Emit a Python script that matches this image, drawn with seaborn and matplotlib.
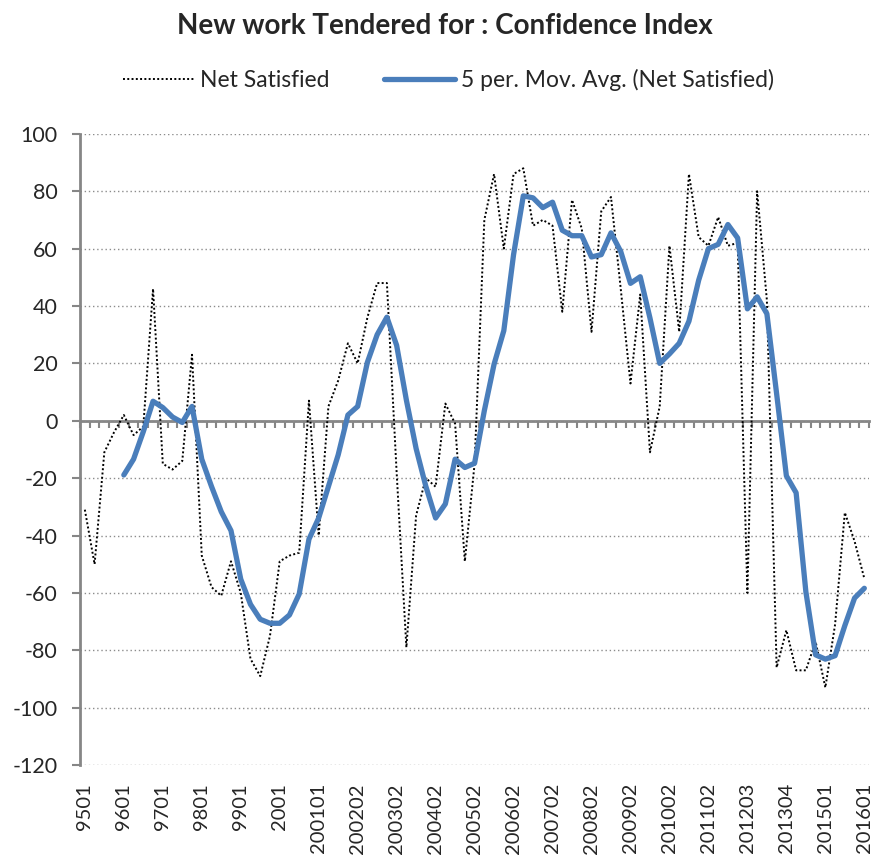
import pandas as pd
import seaborn as sns
import matplotlib.pyplot as plt
import numpy as np

# Dados (trimestral, 9501 .. 201601)
net_satisfied = [
    -31, -50, -11, -4, 2, -5, -2, 46, -15, -17,
    -14, 23, -47, -58, -61, -49, -60, -83, -89, -75,
    -49, -47, -46, 7, -40, 5, 14, 27, 20, 36,
    48, 48, -18, -79, -33, -20, -23, 6, -1, -49,
    -15, 70, 86, 60, 86, 88, 68, 70, 68, 38,
    77, 67, 31, 73, 78, 46, 13, 44, -11, 5,
    61, 31, 86, 64, 61, 71, 61, 62, -60, 80,
    42, -86, -73, -87, -87, -77, -93, -71, -32, -42,
    -55,
]

mov_avg = [
    None, None, None, None, -18.9, -13.4, -3.8, 6.8, 4.6, 1.3,
    -0.6, 5.0, -13.4, -22.9, -31.7, -38.3, -55.2, -64.0, -69.2, -70.6,
    -70.6, -67.7, -60.4, -41.3, -33.9, -22.9, -11.9, 2.0, 5.0, 20.4,
    30.0, 36.1, 26.3, 7.2, -9.7, -22.9, -33.9, -29.0, -13.4, -16.3,
    -14.8, 3.5, 19.7, 31.4, 57.9, 78.4, 77.7, 74.3, 76.2, 66.4,
    64.5, 64.5, 57.1, 57.9, 65.5, 59.0, 47.9, 50.2, 35.8, 20.0,
    23.3, 27.0, 34.7, 49.0, 60.0, 61.5, 68.4, 63.7, 39.0, 43.2,
    37.3, 9.4, -19.2, -25.1, -59.6, -81.6, -83.1, -81.9, -71.4, -61.8,
    -58.4,
]

tick_labels = [
    "9501", "9601", "9701", "9801", "9901", "2001", "200101", "200202",
    "200302", "200402", "200502", "200602", "200702", "200802", "200902",
    "201002", "201102", "201203", "201304", "201501", "201601",
]

df = pd.DataFrame({
    "periodo": range(len(net_satisfied)),
    "net": net_satisfied,
    "ma": pd.to_numeric(pd.Series(mov_avg), errors="coerce"),
})

sns.set_style("white")
plt.rcParams["font.family"] = ["Lato", "DejaVu Sans"]
plt.rcParams["axes.unicode_minus"] = False

cinza = "#868686"

fig = plt.figure(figsize=(8.74, 8.61), dpi=100)
ax = fig.add_axes([0.0915, 0.1115, 0.903, 0.733])

sns.lineplot(data=df, x="periodo", y="net", color="black", linewidth=1.4,
             linestyle=(0, (1, 1.2)), label="Net Satisfied", ax=ax)
sns.lineplot(data=df, x="periodo", y="ma", color="#4A7EBB", linewidth=3.8,
             solid_joinstyle="round", solid_capstyle="round",
             label="5 per. Mov. Avg. (Net Satisfied)", ax=ax)

# Eixos
ax.set_xlim(-0.5, len(net_satisfied) - 0.5)
ax.set_ylim(-120, 100)
ax.set_yticks(range(-120, 101, 20))
ax.set_xticks(range(0, len(net_satisfied), 4))
ax.set_xticklabels(tick_labels, rotation=90)
ax.set_xlabel("")
ax.set_ylabel("")
ax.tick_params(axis="x", length=0, pad=13, labelsize=14.5)
ax.tick_params(axis="y", left=True, length=6, width=1.5, color=cinza,
               pad=10, labelsize=15.5)

for s in ["top", "right", "bottom"]:
    ax.spines[s].set_visible(False)
ax.spines["left"].set_color(cinza)
ax.spines["left"].set_linewidth(2)

ax.set_axisbelow(True)
ax.yaxis.grid(True, linestyle=(0, (1, 2)), color="#8c8c8c", linewidth=1)

# Linha do zero com marcas entre as categorias
zero = ax.secondary_xaxis(120 / 220)
zero.set_xticks(np.arange(-0.5, len(net_satisfied), 1))
zero.tick_params(axis="x", direction="in", length=5, width=1.5, color=cinza,
                 labeltop=False, labelbottom=False)
for s in zero.spines.values():
    s.set_color(cinza)
    s.set_linewidth(2)

ax.legend(loc="center", bbox_to_anchor=(0.513, 0.907),
          bbox_transform=fig.transFigure, ncol=2, frameon=False,
          fontsize=16.5, handlelength=3.1, columnspacing=2.4, handletextpad=0.25)

fig.text(0.509, 0.985, "New work Tendered for : Confidence Index",
         ha="center", va="top", fontsize=20, fontweight="bold")

plt.savefig("out.png", dpi=100)
